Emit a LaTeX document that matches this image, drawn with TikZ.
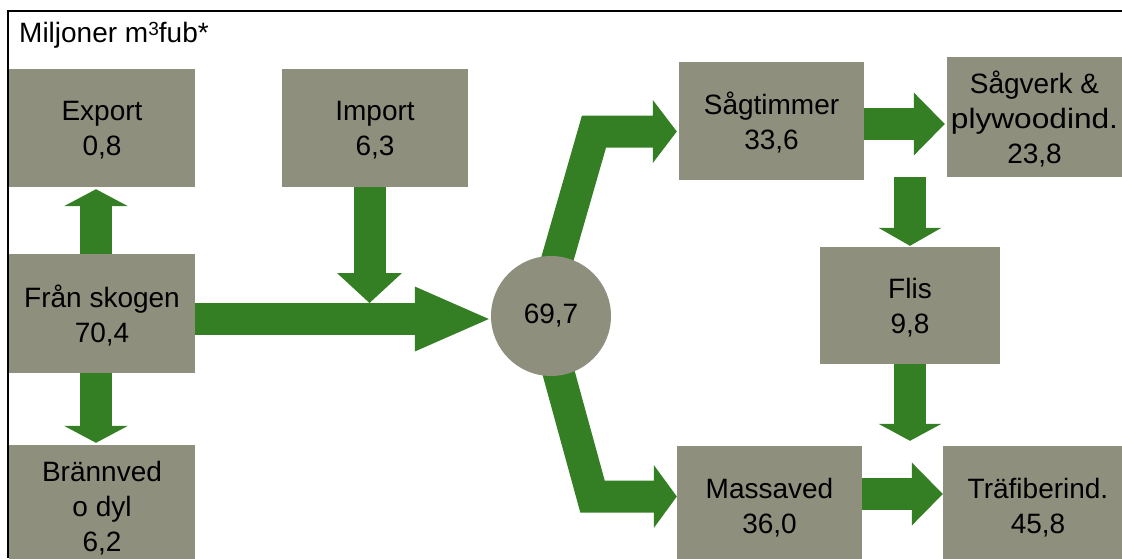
\documentclass[tikz,border=0pt]{standalone}
\usepackage{fontspec}
\setmainfont{Liberation Sans}
\usetikzlibrary{arrows.meta,backgrounds}
\definecolor{flowgreen}{RGB}{52,127,36}
\definecolor{boxgray}{RGB}{143,143,126}
\begin{document}
\begin{tikzpicture}[x=1pt,y=-1pt,
  lbl/.style={font=\fontsize{28}{35}\selectfont},
  box/.style={lbl, fill=boxgray, inner sep=0pt, align=center, text depth=0pt},
  flow/.style={draw=flowgreen, line width=32pt, line join=miter},
  head/.style 2 args={-{Triangle[length=#1,width=#2,line width=0pt]}}]
\useasboundingbox (0,0) rectangle (1122,558);
\clip (0,0) rectangle (1122,558);

% title
\node[lbl, anchor=base west, inner sep=0pt] (title) at (19,42) {Miljoner m\raisebox{6.5pt}{\fontsize{19}{19}\selectfont 3}fub*};

% boxes
\node[box, minimum width=186pt, minimum height=118pt] (export) at (102,128) {Export\\0,8};
\node[box, minimum width=186pt, minimum height=118pt] (import) at (375,128) {Import\\6,3};
\node[box, minimum width=186pt, minimum height=119pt] (fran) at (102,313.5) {Från skogen\\70,4};
\node[box, minimum width=186pt, minimum height=122pt] (bran) at (102,506) {Brännved\\o dyl\\6,2};
\node[circle, fill=boxgray, minimum size=120pt, inner sep=0pt, lbl] (circ) at (551,316) {69,7};
\node[box, minimum width=185pt, minimum height=118pt] (sagt) at (771.5,121) {Sågtimmer\\33,6};
\node[box, minimum width=175pt, minimum height=120pt, text depth=-10pt] (sagv) at (1034.5,117) {Sågverk \&\\\scalebox{1.13}[1]{plywoodind.}\\23,8};
\node[box, minimum width=180pt, minimum height=117pt] (flis) at (910,305.5) {Flis\\9,8};
\node[box, minimum width=185pt, minimum height=120pt] (mass) at (769.5,506) {Massaved\\36,0};
\node[box, minimum width=190pt, minimum height=120pt] (traf) at (1038,506) {Träfiberind.\\45,8};

\coordinate (join) at (369.5,303);
\coordinate (bendU) at (594,131.5);
\coordinate (bendD) at (592.5,496.5);

\begin{scope}[on background layer]
  % frame
  \draw[line width=1.8pt] (8,558) -- (8,11) -- (1122,11);
  % flows
  \draw[flow, head={17pt}{64pt}, shorten >=2pt] ([xshift=-6pt]fran.north) -- ([xshift=-6pt]export.south);
  \draw[flow, head={17pt}{64pt}, shorten >=2pt] ([xshift=-6pt]fran.south) -- ([xshift=-6pt]bran.north);
  \draw[flow, head={74pt}{65pt}, shorten >=2pt] (fran.east |- 0,319) -- ([yshift=-3pt]circ.west);
  \draw[flow, head={30pt}{65pt}] (join |- import.south) -- (join);
  \draw[flow, head={24pt}{63pt}, shorten >=2pt] ([xshift=-10pt]circ.center) -- (bendU) -- (bendU -| sagt.west);
  \draw[flow, head={23pt}{63pt}] ([xshift=-8pt]circ.center) -- (bendD) -- (bendD -| mass.west);
  \draw[flow, head={31pt}{63pt}, shorten >=2pt] ([yshift=-3pt]sagt.east) -- (sagv.west |- 0,124);
  \draw[flow, head={18pt}{63pt}, shorten >=1pt] (flis.north |- sagv.south) -- (flis.north);
  \draw[flow, head={17pt}{63pt}, shorten >=5pt] (flis.south) -- (flis.south |- traf.north);
  \draw[flow, head={31pt}{63pt}] (mass.east |- 0,494) -- (traf.west |- 0,494);
\end{scope}
\end{tikzpicture}
\end{document}
